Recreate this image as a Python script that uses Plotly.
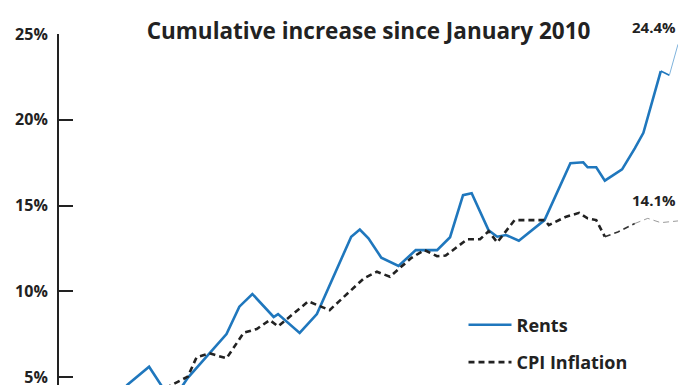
import plotly.graph_objects as go

# ---- data (cumulative % increase since January 2010) ----
rent_dates = ["2010-01", "2011-05", "2011-10", "2012-02", "2012-05", "2012-07", "2013-04",
              "2013-07", "2013-10", "2014-03", "2014-04", "2014-09", "2015-01", "2015-09",
              "2015-11", "2016-01", "2016-04", "2016-08", "2016-12", "2017-05", "2017-08",
              "2017-11", "2018-01", "2018-05", "2018-07", "2018-09", "2018-12", "2019-06",
              "2019-12", "2020-03", "2020-04", "2020-06", "2020-08", "2020-12", "2021-03",
              "2021-05", "2021-09", "2021-11", "2022-01"]
rent_values = [0.0, 4.55, 5.6, 4.05, 4.2, 4.95, 7.5,
               9.1, 9.84, 8.5, 8.67, 7.57, 8.67, 13.18,
               13.6, 13.09, 11.96, 11.47, 12.4, 12.4, 13.15,
               15.6, 15.71, 13.55, 13.18, 13.28, 12.95, 14.15,
               17.46, 17.52, 17.23, 17.23, 16.45, 17.11, 18.33,
               19.24, 22.84, 22.6, 24.4]

cpi_dates = ["2010-01", "2012-01", "2012-07", "2012-09", "2012-12", "2013-04", "2013-08",
             "2013-11", "2014-02", "2014-04", "2014-11", "2015-04", "2015-12", "2016-03",
             "2016-06", "2016-11", "2017-02", "2017-05", "2017-07", "2017-12", "2018-03",
             "2018-05", "2018-07", "2018-11", "2019-06", "2019-07", "2019-11", "2020-02",
             "2020-04", "2020-06", "2020-08", "2020-11", "2021-03", "2021-06", "2021-09",
             "2022-01"]
cpi_values = [0.0, 4.25, 5.02, 6.15, 6.38, 6.09, 7.58,
              7.8, 8.32, 7.95, 9.41, 8.9, 10.76, 11.14,
              10.85, 11.95, 12.4, 12.04, 12.08, 13.03, 13.03,
              13.5, 12.85, 14.15, 14.15, 13.86, 14.35, 14.57,
              14.25, 14.15, 13.18, 13.45, 13.95, 14.25, 14.0,
              14.1]

y_ticks = [5, 10, 15, 20, 25]
y_tick_labels = ["5%", "10%", "15%", "20%", "25%"]

title_text = "Cumulative increase since January 2010"
series_names = ["Rents", "CPI Inflation"]

BLUE = "#1f77bd"
INK = "#222222"
FONT = "Open Sans"

# The page body has an 8px default margin, so the figure is laid out 8px up/left.
OFF = 8
FIG_W, FIG_H = 696 - OFF, 385 - OFF
PLOT_L, PLOT_R, PLOT_T = 59 - OFF, 678 - OFF, 34 - OFF
PLOT_W = PLOT_R - PLOT_L
PLOT_H = FIG_H - PLOT_T

# split points where the original line fades (latest, provisional months)
r_split1 = rent_dates.index("2021-09")
r_split2 = rent_dates.index("2021-11")
c_split1 = cpi_dates.index("2020-08")
c_split2 = cpi_dates.index("2021-03")

fig = go.Figure()

fig.add_trace(go.Scatter(
    x=rent_dates[:r_split1 + 1], y=rent_values[:r_split1 + 1], mode="lines",
    name=series_names[0], legendgroup="r",
    line=dict(color=BLUE, width=2.6)))
fig.add_trace(go.Scatter(
    x=rent_dates[r_split1:r_split2 + 1], y=rent_values[r_split1:r_split2 + 1], mode="lines",
    showlegend=False, legendgroup="r", line=dict(color=BLUE, width=1.6)))
fig.add_trace(go.Scatter(
    x=rent_dates[r_split2:], y=rent_values[r_split2:], mode="lines",
    showlegend=False, legendgroup="r", line=dict(color="#7fb3dc", width=1)))

fig.add_trace(go.Scatter(
    x=cpi_dates[:c_split1 + 1], y=cpi_values[:c_split1 + 1], mode="lines",
    name=series_names[1], legendgroup="c",
    line=dict(color=INK, width=2.6, dash="6px,4px")))
fig.add_trace(go.Scatter(
    x=cpi_dates[c_split1:c_split2 + 1], y=cpi_values[c_split1:c_split2 + 1], mode="lines",
    showlegend=False, legendgroup="c", line=dict(color="#333333", width=1.6, dash="6px,4px")))
fig.add_trace(go.Scatter(
    x=cpi_dates[c_split2:], y=cpi_values[c_split2:], mode="lines",
    showlegend=False, legendgroup="c", line=dict(color="#9a9a9a", width=1, dash="6px,4px")))

# end-value labels
fig.add_annotation(x=rent_dates[-1], y=rent_values[-1], text=f"{rent_values[-1]:.1f}%",
                   showarrow=False, xanchor="right", yanchor="bottom", yshift=5,
                   font=dict(family=FONT, size=15, color=INK, weight=700))
fig.add_annotation(x=cpi_dates[-1], y=cpi_values[-1], text=f"{cpi_values[-1]:.1f}%",
                   showarrow=False, xanchor="right", yanchor="bottom", yshift=9,
                   font=dict(family=FONT, size=15, color=INK, weight=700))

fig.update_layout(
    width=FIG_W, height=FIG_H,
    margin=dict(l=PLOT_L, r=FIG_W - PLOT_R, t=PLOT_T, b=0, autoexpand=False),
    paper_bgcolor="white", plot_bgcolor="white",
    font=dict(family=FONT, color=INK),
    title=dict(text=title_text, x=0.5, xref="paper", y=1 - (31 - OFF) / FIG_H,
               yref="container", xanchor="center", yanchor="middle",
               font=dict(family=FONT, size=22.5, color=INK, weight=700)),
    showlegend=True,
    legend=dict(x=(463.5 - 59) / PLOT_W, y=(385 - 306.5) / PLOT_H, xanchor="left",
                yanchor="top", bgcolor="rgba(0,0,0,0)", traceorder="grouped",
                tracegroupgap=11, itemwidth=43,
                font=dict(family=FONT, size=18, color=INK, weight=700)),
    xaxis=dict(type="date", range=["2010-01-01", "2022-01-01"], visible=False,
               automargin=False),
    yaxis=dict(range=[25 - PLOT_H / 17.15, 25], tickvals=y_ticks, ticktext=y_tick_labels,
               automargin=False, ticklabeloverflow="allow",
               showgrid=False, zeroline=False, showline=True, linecolor=INK, linewidth=2,
               ticks="inside", ticklen=14, tickwidth=2, tickcolor=INK,
               ticklabelstandoff=6,
               tickfont=dict(family=FONT, size=16, color=INK, weight=700)),
)

fig.write_html("out.html")
